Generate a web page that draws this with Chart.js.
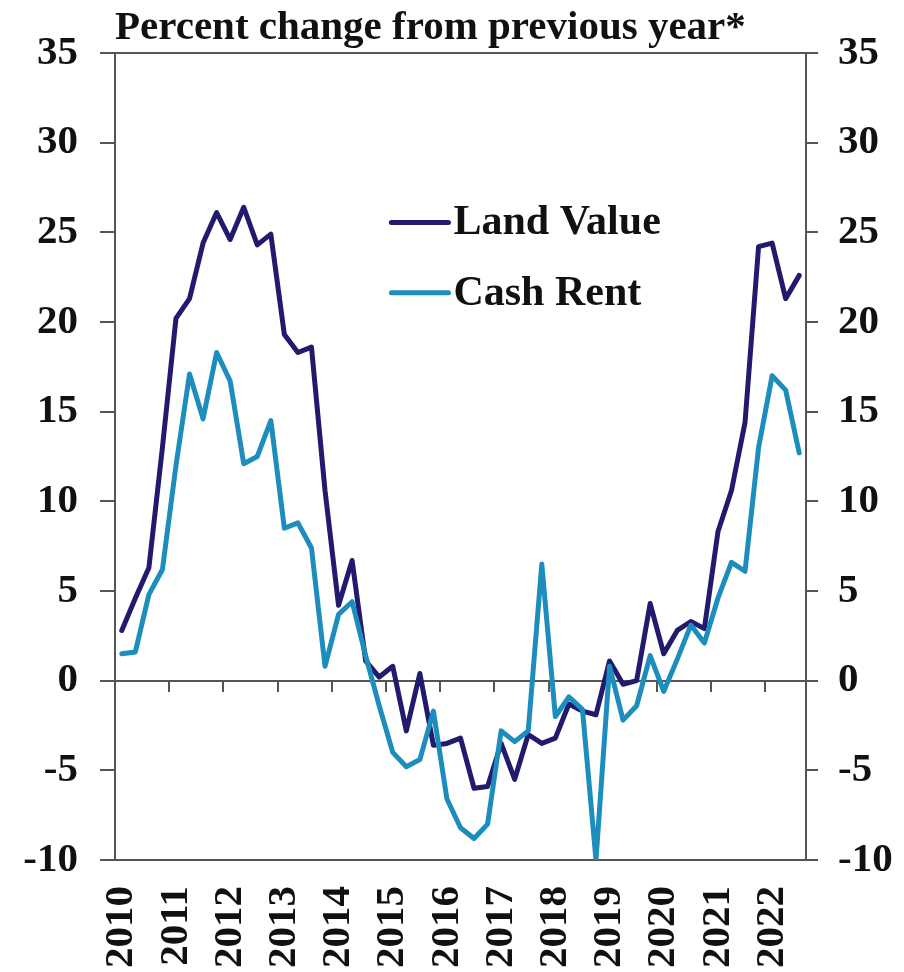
<!DOCTYPE html>
<html>
<head>
<meta charset="utf-8">
<script src="https://cdn.jsdelivr.net/npm/chart.js@4/dist/chart.umd.min.js"></script>
<style>
  body { margin: 0; background: #fff; }
</style>
</head>
<body>
<canvas id="landChart" width="904" height="972"></canvas>
<script>
// quarterly data, 2010 Q1 - 2022 Q3
var years = [2010, 2011, 2012, 2013, 2014, 2015, 2016, 2017, 2018, 2019, 2020, 2021, 2022];
var quarters = ['Q1', 'Q2', 'Q3', 'Q4'];

var landValue = [
  2.8, 4.6, 6.3, 13.0, 20.2, 21.3, 24.4, 26.1, 24.6, 26.4, 24.3, 24.9,
  19.3, 18.3, 18.6, 10.6, 4.2, 6.7, 1.1, 0.2, 0.8, -2.8, 0.4, -3.6,
  -3.5, -3.2, -6.0, -5.9, -3.5, -5.5, -3.0, -3.5, -3.2, -1.3, -1.7, -1.9,
  1.1, -0.2, 0.0, 4.3, 1.5, 2.8, 3.3, 2.9, 8.3, 10.6, 14.4, 24.2,
  24.4, 21.3, 22.6
];
var cashRent = [
  1.5, 1.6, 4.8, 6.2, 12.0, 17.1, 14.6, 18.3, 16.7, 12.1, 12.5, 14.5,
  8.5, 8.8, 7.4, 0.8, 3.7, 4.4, 1.4, -1.4, -4.0, -4.8, -4.4, -1.7,
  -6.6, -8.2, -8.8, -8.0, -2.8, -3.4, -2.8, 6.5, -2.0, -0.9, -1.6, -10.0,
  0.8, -2.2, -1.4, 1.4, -0.6, 1.2, 3.1, 2.1, 4.6, 6.6, 6.1, 13.0,
  17.0, 16.2, 12.7
];

var seriesNames = ['Land Value', 'Cash Rent'];
var seriesColors = ['#221a6c', '#1c8dbd'];
var axisColor = '#555';
var textColor = '#111';

var labels = [];
years.forEach(function (y) {
  quarters.forEach(function (q) {
    if (labels.length < landValue.length) labels.push(y + ' ' + q);
  });
});

Chart.defaults.font.family = '"Liberation Serif", "Times New Roman", serif';

// legend drawn inside the plot, like the original
var insideLegend = {
  id: 'insideLegend',
  afterDraw: function (chart) {
    var ctx = chart.ctx;
    var a = chart.chartArea;
    var x = a.left + a.width * 0.4;
    ctx.save();
    ctx.font = 'bold 42px "Liberation Serif"';
    ctx.textBaseline = 'middle';
    seriesNames.forEach(function (name, i) {
      var y = a.top + a.height * (0.21 + i * 0.087);
      ctx.strokeStyle = seriesColors[i];
      ctx.lineWidth = 5;
      ctx.lineCap = 'round';
      ctx.beginPath();
      ctx.moveTo(x, y);
      ctx.lineTo(x + 57, y);
      ctx.stroke();
      ctx.fillStyle = textColor;
      ctx.fillText(name, x + 62, y + 1);
    });
    ctx.restore();
  }
};

function yearTick(value, index) {
  return index % 4 === 0 ? this.getLabelForValue(value).slice(0, 4) : null;
}

var ctx = document.getElementById('landChart').getContext('2d');
var landChart = new Chart(ctx, {
  type: 'line',
  data: {
    labels: labels,
    datasets: [{
      label: seriesNames[1],
      data: cashRent,
      borderColor: seriesColors[1],
      borderWidth: 5,
      order: 0
    }, {
      label: seriesNames[0],
      data: landValue,
      borderColor: seriesColors[0],
      borderWidth: 5,
      order: 1
    }]
  },
  options: {
    responsive: false,
    animation: false,
    layout: {
      padding: 0
    },
    elements: {
      point: { radius: 0 },
      line: { tension: 0, borderJoinStyle: 'round', borderCapStyle: 'round' }
    },
    scales: {
      x: {
        type: 'category',
        offset: true,
        grid: { display: false, drawTicks: false },
        border: { display: false },
        afterFit: function (scale) { scale.height = 112; },
        ticks: {
          autoSkip: false,
          minRotation: 90,
          maxRotation: 90,
          padding: 26,
          color: textColor,
          font: { size: 41, weight: 'bold' },
          callback: yearTick
        }
      },
      x2: {
        type: 'category',
        position: { y: 0 },
        offset: true,
        grid: {
          offset: true,
          drawOnChartArea: false,
          drawTicks: true,
          tickLength: 11,
          lineWidth: 2,
          color: function (c) { return c.index % 4 === 0 ? axisColor : 'rgba(0,0,0,0)'; }
        },
        border: { display: false },
        ticks: { display: false, autoSkip: false }
      },
      y: {
        position: 'left',
        min: -10,
        max: 35,
        afterFit: function (scale) { scale.width = 115; },
        grid: {
          lineWidth: 2,
          tickLength: 15,
          tickColor: axisColor,
          color: function (c) {
            var v = c.tick ? c.tick.value : null;
            return (v === 35 || v === 0 || v === -10) ? axisColor : 'rgba(0,0,0,0)';
          }
        },
        border: { display: true, color: axisColor, width: 2 },
        ticks: {
          stepSize: 5,
          padding: 22,
          color: textColor,
          font: { size: 41, weight: 'bold' }
        }
      },
      y2: {
        position: 'right',
        min: -10,
        max: 35,
        afterFit: function (scale) { scale.width = 98; },
        grid: {
          drawOnChartArea: false,
          lineWidth: 2,
          tickLength: 12,
          color: axisColor
        },
        border: { display: true, color: axisColor, width: 2 },
        ticks: {
          stepSize: 5,
          padding: 20,
          color: textColor,
          font: { size: 41, weight: 'bold' }
        }
      }
    },
    plugins: {
      legend: { display: false },
      tooltip: { enabled: false },
      title: {
        display: true,
        text: 'Percent change from previous year*',
        align: 'start',
        fullSize: false,
        color: textColor,
        font: { size: 41, weight: 'bold', lineHeight: 1 },
        padding: { top: 8, bottom: 4 }
      }
    }
  },
  plugins: [insideLegend]
});
</script>
</body>
</html>
